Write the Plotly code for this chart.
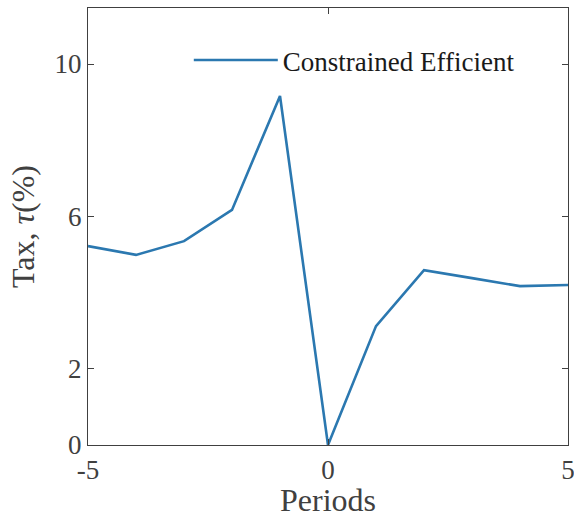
import plotly.graph_objects as go

periods = [-5, -4, -3, -2, -1, 0, 1, 2, 3, 4, 5]
tax = [5.22, 4.99, 5.35, 6.17, 9.16, 0.0, 3.12, 4.59, 4.38, 4.17, 4.20]
series_name = "Constrained Efficient"
x_ticks = [-5, 0, 5]
y_ticks = [0, 2, 6, 10]

font_family = "Liberation Serif, DejaVu Serif, serif"
gray = "#404040"

fig = go.Figure()
fig.add_trace(go.Scatter(x=periods, y=tax, mode="lines", name=series_name,
                         line=dict(color="#2b78b0", width=2.6)))

axis_common = dict(showline=True, linecolor=gray, linewidth=1.2, mirror="ticks",
                   ticks="inside", ticklen=6, tickcolor=gray, tickwidth=1,
                   showgrid=False, zeroline=False, automargin=False,
                   ticklabeloverflow="allow",
                   tickfont=dict(family=font_family, size=27, color=gray))

fig.update_layout(
    width=574, height=518,
    margin=dict(l=88, r=6, t=8, b=73),
    paper_bgcolor="white", plot_bgcolor="white",
    xaxis=dict(range=[-5, 5], tickvals=x_ticks, ticktext=[str(v) for v in x_ticks],
               title=dict(text="Periods", font=dict(family=font_family, size=32, color=gray), standoff=8),
               **axis_common),
    yaxis=dict(range=[0, 11.47], tickvals=y_ticks, ticktext=[str(v) for v in y_ticks],
               title=dict(text="Tax, <i>τ</i>(%)", font=dict(family=font_family, size=32, color=gray), standoff=10),
               **axis_common),
    showlegend=True,
    legend=dict(x=0.21, y=0.88, xanchor="left", yanchor="middle", bgcolor="rgba(0,0,0,0)",
                font=dict(family=font_family, size=27, color="#1a1a1a"), itemwidth=84),
)

fig.write_html("out.html")
